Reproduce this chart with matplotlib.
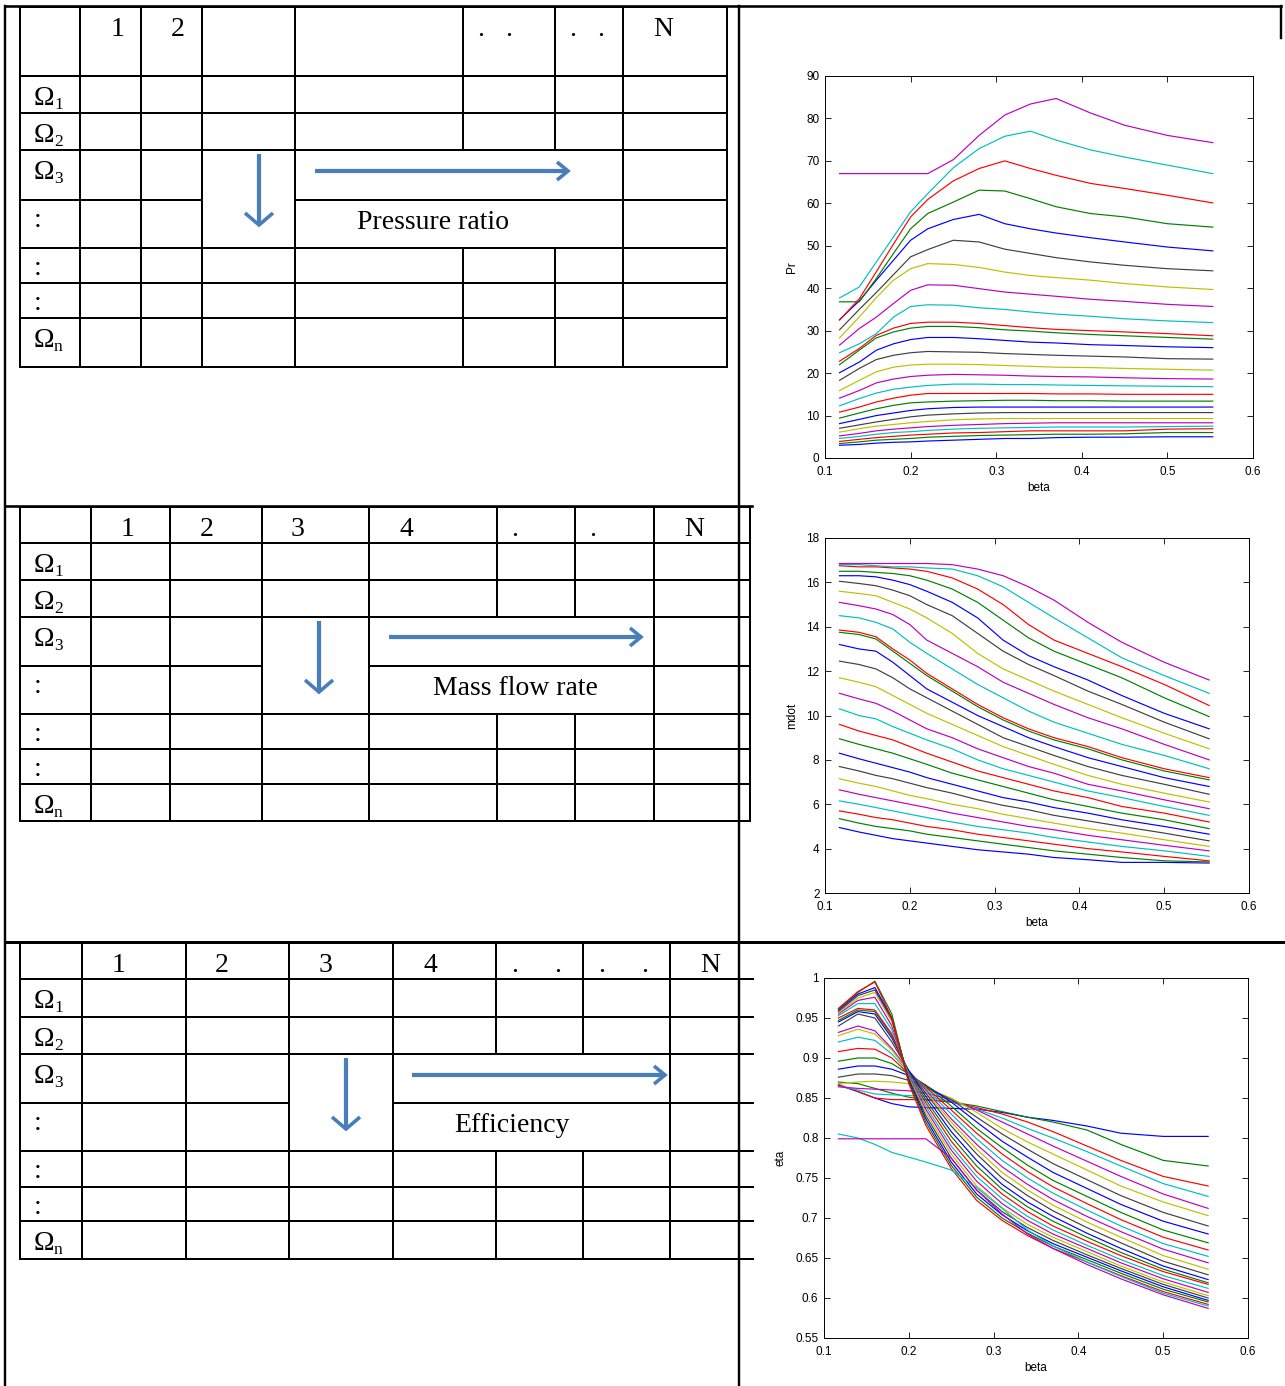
import matplotlib
matplotlib.use("Agg")
import matplotlib.pyplot as plt

W, H = 1285, 1386

# ---------------------------------------------------------------- data
beta = [0.117, 0.14, 0.16, 0.18, 0.20, 0.22, 0.25, 0.28, 0.31, 0.34, 0.37, 0.41, 0.45, 0.50, 0.553]

# pressure ratio, one row per speed line (lowest speed first)
pr_1 = [3.0, 3.2, 3.5, 3.7, 3.8, 4.0, 4.2, 4.4, 4.6, 4.6, 4.8, 4.9, 4.9, 5.0, 5.0]
pr_2 = [3.4, 3.8, 4.2, 4.4, 4.6, 4.9, 5.1, 5.3, 5.4, 5.5, 5.6, 5.6, 5.7, 6.0, 6.0]
pr_3 = [3.9, 4.4, 4.8, 5.1, 5.4, 5.6, 5.9, 6.0, 6.2, 6.4, 6.4, 6.4, 6.4, 6.8, 6.9]
pr_4 = [4.6, 5.1, 5.6, 6.0, 6.2, 6.5, 6.8, 7.0, 7.1, 7.2, 7.3, 7.3, 7.3, 7.4, 7.5]
pr_5 = [5.2, 5.8, 6.4, 6.8, 7.1, 7.4, 7.7, 7.9, 8.1, 8.2, 8.3, 8.3, 8.3, 8.3, 8.3]
pr_6 = [6.1, 6.9, 7.5, 7.9, 8.3, 8.6, 9.0, 9.2, 9.3, 9.3, 9.3, 9.3, 9.3, 9.3, 9.3]
pr_7 = [7.0, 7.8, 8.5, 9.1, 9.7, 10.1, 10.4, 10.6, 10.7, 10.7, 10.7, 10.7, 10.7, 10.7, 10.7]
pr_8 = [8.1, 9.1, 10.0, 10.6, 11.2, 11.6, 11.9, 12.0, 12.0, 12.0, 12.0, 12.0, 12.0, 12.0, 12.0]
pr_9 = [9.4, 10.6, 11.6, 12.4, 13.0, 13.2, 13.4, 13.5, 13.6, 13.6, 13.5, 13.5, 13.4, 13.4, 13.4]
pr_10 = [10.8, 12.0, 13.2, 14.1, 14.8, 15.2, 15.2, 15.2, 15.2, 15.2, 15.1, 15.1, 15.0, 15.0, 15.0]
pr_11 = [12.3, 14.0, 15.3, 16.2, 16.7, 17.1, 17.4, 17.4, 17.3, 17.3, 17.2, 17.1, 17.0, 16.9, 16.8]
pr_12 = [14.1, 15.9, 17.7, 18.6, 19.2, 19.5, 19.7, 19.6, 19.5, 19.3, 19.2, 19.1, 18.9, 18.7, 18.6]
pr_13 = [15.9, 18.3, 20.3, 21.4, 21.9, 22.1, 22.1, 22.0, 21.8, 21.6, 21.4, 21.3, 21.1, 20.9, 20.7]
pr_14 = [18.3, 21.1, 23.2, 24.2, 24.8, 25.1, 25.0, 24.9, 24.6, 24.4, 24.2, 24.0, 23.8, 23.4, 23.3]
pr_15 = [20.1, 22.6, 25.4, 26.9, 27.9, 28.4, 28.4, 28.1, 27.7, 27.3, 27.1, 26.7, 26.5, 26.2, 26.0]
pr_16 = [22.0, 25.4, 28.3, 29.7, 30.6, 31.0, 31.0, 30.7, 30.2, 29.9, 29.5, 29.1, 28.8, 28.4, 28.0]
pr_17 = [22.8, 25.8, 28.9, 30.6, 31.7, 32.0, 32.0, 31.7, 31.2, 30.7, 30.3, 30.0, 29.7, 29.3, 28.8]
pr_18 = [24.8, 26.9, 29.3, 33.2, 35.7, 36.1, 36.0, 35.4, 35.0, 34.4, 33.9, 33.4, 32.8, 32.3, 31.9]
pr_19 = [26.6, 30.5, 33.2, 36.4, 39.5, 40.8, 40.7, 39.9, 39.1, 38.6, 38.1, 37.4, 36.9, 36.2, 35.7]
pr_20 = [28.3, 33.2, 37.8, 41.9, 44.6, 45.8, 45.6, 44.9, 43.8, 43.0, 42.5, 41.9, 41.1, 40.3, 39.7]
pr_21 = [30.2, 35.0, 39.0, 43.2, 47.4, 49.1, 51.3, 50.9, 49.2, 48.2, 47.2, 46.2, 45.4, 44.6, 44.1]
pr_22 = [32.6, 37.0, 41.9, 46.6, 51.3, 54.0, 56.2, 57.4, 55.2, 54.0, 53.0, 51.9, 50.9, 49.7, 48.8]
pr_23 = [36.8, 36.8, 42.3, 48.2, 54.0, 57.6, 60.3, 63.1, 62.9, 61.1, 59.2, 57.6, 56.8, 55.2, 54.4]
pr_24 = [32.5, 37.5, 43.9, 50.4, 56.8, 60.9, 65.3, 68.2, 70.0, 68.2, 66.6, 64.7, 63.5, 61.9, 60.1]
pr_25 = [37.7, 40.3, 46.2, 52.1, 58.0, 62.3, 68.4, 72.9, 75.8, 77.0, 74.9, 72.6, 70.9, 69.0, 67.0]
pr_26 = [67.0, 67.0, 67.0, 67.0, 67.0, 67.0, 70.3, 76.0, 80.8, 83.4, 84.7, 81.3, 78.4, 76.0, 74.3]

# corrected mass flow rate
md_1 = [4.95, 4.75, 4.6, 4.45, 4.35, 4.25, 4.1, 3.95, 3.85, 3.75, 3.6, 3.5, 3.38, 3.38, 3.35]
md_2 = [5.35, 5.15, 5.0, 4.9, 4.8, 4.65, 4.5, 4.35, 4.2, 4.05, 3.9, 3.75, 3.6, 3.45, 3.4]
md_3 = [5.7, 5.55, 5.4, 5.3, 5.15, 5.0, 4.85, 4.65, 4.5, 4.35, 4.2, 4.0, 3.85, 3.65, 3.45]
md_4 = [6.15, 6.0, 5.85, 5.7, 5.55, 5.4, 5.2, 5.0, 4.85, 4.7, 4.5, 4.3, 4.1, 3.9, 3.65]
md_5 = [6.65, 6.45, 6.3, 6.15, 6.0, 5.85, 5.6, 5.4, 5.2, 5.0, 4.85, 4.6, 4.4, 4.15, 3.9]
md_6 = [7.15, 6.95, 6.8, 6.6, 6.4, 6.25, 6.0, 5.8, 5.55, 5.35, 5.15, 4.9, 4.7, 4.4, 4.1]
md_7 = [7.7, 7.5, 7.3, 7.15, 6.95, 6.75, 6.5, 6.2, 5.95, 5.75, 5.5, 5.25, 5.0, 4.7, 4.35]
md_8 = [8.3, 8.05, 7.85, 7.65, 7.45, 7.2, 6.9, 6.6, 6.3, 6.1, 5.85, 5.6, 5.3, 5.0, 4.65]
md_9 = [8.95, 8.7, 8.5, 8.3, 8.05, 7.8, 7.4, 7.1, 6.8, 6.5, 6.2, 5.9, 5.6, 5.3, 4.9]
md_10 = [9.6, 9.3, 9.1, 8.9, 8.6, 8.3, 7.9, 7.5, 7.2, 6.9, 6.6, 6.3, 5.9, 5.6, 5.2]
md_11 = [10.3, 10.0, 9.85, 9.5, 9.2, 8.9, 8.5, 8.0, 7.6, 7.3, 7.0, 6.6, 6.3, 5.9, 5.5]
md_12 = [11.0, 10.75, 10.55, 10.2, 9.8, 9.4, 9.0, 8.5, 8.1, 7.7, 7.4, 6.9, 6.6, 6.2, 5.8]
md_13 = [11.7, 11.5, 11.3, 10.9, 10.5, 10.1, 9.6, 9.1, 8.6, 8.2, 7.8, 7.3, 6.9, 6.5, 6.1]
md_14 = [12.45, 12.3, 12.1, 11.7, 11.2, 10.8, 10.2, 9.6, 9.0, 8.6, 8.2, 7.7, 7.3, 6.9, 6.45]
md_15 = [13.2, 13.0, 12.9, 12.4, 11.8, 11.2, 10.6, 10.0, 9.5, 9.0, 8.6, 8.1, 7.7, 7.2, 6.8]
md_16 = [13.75, 13.65, 13.45, 12.9, 12.35, 11.8, 11.1, 10.4, 9.8, 9.3, 8.9, 8.5, 8.0, 7.5, 7.1]
md_17 = [13.85, 13.75, 13.55, 13.0, 12.5, 11.9, 11.2, 10.5, 9.9, 9.4, 9.0, 8.6, 8.1, 7.6, 7.2]
md_18 = [14.5, 14.4, 14.2, 13.9, 13.3, 12.8, 12.1, 11.4, 10.8, 10.2, 9.7, 9.2, 8.7, 8.2, 7.6]
md_19 = [15.1, 14.95, 14.8, 14.55, 14.1, 13.4, 12.8, 12.2, 11.5, 11.0, 10.5, 9.9, 9.4, 8.7, 8.0]
md_20 = [15.6, 15.5, 15.4, 15.1, 14.8, 14.4, 13.7, 12.8, 12.1, 11.6, 11.1, 10.5, 9.9, 9.2, 8.5]
md_21 = [16.05, 15.95, 15.85, 15.65, 15.4, 15.0, 14.5, 13.7, 12.9, 12.3, 11.8, 11.1, 10.5, 9.7, 8.95]
md_22 = [16.3, 16.3, 16.25, 16.1, 15.9, 15.6, 15.1, 14.4, 13.4, 12.7, 12.2, 11.6, 10.9, 10.1, 9.4]
md_23 = [16.5, 16.5, 16.45, 16.4, 16.3, 16.1, 15.7, 15.1, 14.3, 13.5, 12.9, 12.3, 11.7, 10.8, 9.95]
md_24 = [16.75, 16.7, 16.7, 16.65, 16.6, 16.5, 16.2, 15.7, 15.0, 14.1, 13.4, 12.8, 12.2, 11.4, 10.45]
md_25 = [16.8, 16.8, 16.75, 16.7, 16.7, 16.65, 16.6, 16.3, 15.8, 15.1, 14.4, 13.5, 12.6, 11.8, 11.0]
md_26 = [16.85, 16.85, 16.85, 16.85, 16.85, 16.85, 16.8, 16.6, 16.3, 15.8, 15.2, 14.2, 13.3, 12.4, 11.6]

# isentropic efficiency
eta_1 = [0.866, 0.858, 0.850, 0.843, 0.839, 0.838, 0.837, 0.836, 0.832, 0.826, 0.822, 0.815, 0.806, 0.802, 0.802]
eta_2 = [0.870, 0.868, 0.862, 0.856, 0.851, 0.848, 0.845, 0.840, 0.833, 0.826, 0.820, 0.810, 0.792, 0.772, 0.765]
eta_3 = [0.867, 0.858, 0.850, 0.848, 0.848, 0.848, 0.845, 0.838, 0.830, 0.820, 0.808, 0.790, 0.772, 0.752, 0.740]
eta_4 = [0.865, 0.860, 0.855, 0.854, 0.853, 0.852, 0.846, 0.836, 0.825, 0.812, 0.800, 0.783, 0.765, 0.743, 0.727]
eta_5 = [0.864, 0.862, 0.861, 0.860, 0.859, 0.856, 0.848, 0.835, 0.820, 0.805, 0.790, 0.771, 0.752, 0.730, 0.712]
eta_6 = [0.868, 0.870, 0.871, 0.870, 0.868, 0.862, 0.850, 0.832, 0.812, 0.795, 0.780, 0.760, 0.740, 0.720, 0.703]
eta_7 = [0.876, 0.880, 0.880, 0.878, 0.872, 0.864, 0.848, 0.826, 0.805, 0.786, 0.768, 0.748, 0.728, 0.707, 0.690]
eta_8 = [0.886, 0.890, 0.890, 0.886, 0.878, 0.866, 0.845, 0.820, 0.796, 0.776, 0.757, 0.737, 0.717, 0.696, 0.680]
eta_9 = [0.896, 0.900, 0.900, 0.893, 0.880, 0.866, 0.840, 0.812, 0.788, 0.766, 0.747, 0.727, 0.707, 0.685, 0.669]
eta_10 = [0.908, 0.912, 0.911, 0.900, 0.880, 0.864, 0.835, 0.806, 0.780, 0.758, 0.739, 0.718, 0.698, 0.676, 0.660]
eta_11 = [0.920, 0.926, 0.922, 0.905, 0.882, 0.862, 0.830, 0.799, 0.772, 0.750, 0.731, 0.710, 0.690, 0.668, 0.652]
eta_12 = [0.932, 0.940, 0.934, 0.912, 0.884, 0.860, 0.824, 0.792, 0.764, 0.742, 0.723, 0.702, 0.683, 0.661, 0.644]
eta_13 = [0.928, 0.936, 0.930, 0.910, 0.882, 0.858, 0.820, 0.786, 0.757, 0.735, 0.716, 0.695, 0.676, 0.653, 0.636]
eta_14 = [0.940, 0.955, 0.950, 0.920, 0.884, 0.856, 0.815, 0.780, 0.750, 0.728, 0.709, 0.688, 0.669, 0.646, 0.629]
eta_15 = [0.945, 0.958, 0.955, 0.925, 0.884, 0.852, 0.808, 0.772, 0.742, 0.720, 0.702, 0.681, 0.662, 0.640, 0.623]
eta_16 = [0.947, 0.960, 0.958, 0.928, 0.882, 0.848, 0.802, 0.765, 0.736, 0.714, 0.696, 0.676, 0.657, 0.636, 0.619]
eta_17 = [0.950, 0.962, 0.960, 0.930, 0.880, 0.844, 0.796, 0.758, 0.730, 0.708, 0.690, 0.671, 0.653, 0.633, 0.617]
eta_18 = [0.953, 0.968, 0.968, 0.935, 0.880, 0.840, 0.790, 0.752, 0.724, 0.702, 0.685, 0.666, 0.648, 0.628, 0.612]
eta_19 = [0.955, 0.972, 0.976, 0.940, 0.878, 0.836, 0.785, 0.746, 0.718, 0.697, 0.680, 0.662, 0.644, 0.624, 0.607]
eta_20 = [0.956, 0.975, 0.982, 0.945, 0.876, 0.832, 0.780, 0.740, 0.713, 0.692, 0.676, 0.658, 0.640, 0.620, 0.603]
eta_21 = [0.958, 0.978, 0.985, 0.948, 0.874, 0.828, 0.775, 0.735, 0.708, 0.688, 0.672, 0.654, 0.637, 0.617, 0.600]
eta_22 = [0.960, 0.980, 0.988, 0.950, 0.872, 0.824, 0.770, 0.730, 0.704, 0.684, 0.668, 0.651, 0.634, 0.614, 0.597]
eta_23 = [0.961, 0.982, 0.996, 0.955, 0.870, 0.820, 0.766, 0.726, 0.700, 0.681, 0.665, 0.648, 0.631, 0.611, 0.595]
eta_24 = [0.962, 0.983, 0.995, 0.950, 0.868, 0.816, 0.762, 0.722, 0.697, 0.678, 0.662, 0.645, 0.628, 0.608, 0.592]
eta_25 = [0.805, 0.800, 0.792, 0.782, 0.776, 0.770, 0.760, 0.738, 0.712, 0.685, 0.665, 0.645, 0.627, 0.606, 0.590]
eta_26 = [0.799, 0.799, 0.799, 0.799, 0.799, 0.799, 0.775, 0.735, 0.705, 0.680, 0.662, 0.642, 0.624, 0.604, 0.587]

pr_lines = [pr_1, pr_2, pr_3, pr_4, pr_5, pr_6, pr_7, pr_8, pr_9, pr_10, pr_11, pr_12, pr_13,
            pr_14, pr_15, pr_16, pr_17, pr_18, pr_19, pr_20, pr_21, pr_22, pr_23, pr_24, pr_25, pr_26]
md_lines = [md_1, md_2, md_3, md_4, md_5, md_6, md_7, md_8, md_9, md_10, md_11, md_12, md_13,
            md_14, md_15, md_16, md_17, md_18, md_19, md_20, md_21, md_22, md_23, md_24, md_25, md_26]
eta_lines = [eta_1, eta_2, eta_3, eta_4, eta_5, eta_6, eta_7, eta_8, eta_9, eta_10, eta_11, eta_12, eta_13,
             eta_14, eta_15, eta_16, eta_17, eta_18, eta_19, eta_20, eta_21, eta_22, eta_23, eta_24, eta_25, eta_26]

# table contents
headers_pr = ["1", "2", "", "", ". .", ". .", "N"]
headers_md = ["1", "2", "3", "4", ".", ".", "N"]
headers_eta = ["1", "2", "3", "4", ". .", ". .", "N"]
row_labels = [("Ω", "1"), ("Ω", "2"), ("Ω", "3"), (":", ""), (":", ""), (":", ""), ("Ω", "n")]
quantities = ["Pressure ratio", "Mass flow rate", "Efficiency"]

# classic MATLAB colour order
matlab_colors = [(0, 0, 1), (0, 0.5, 0), (1, 0, 0), (0, 0.75, 0.75),
                 (0.75, 0, 0.75), (0.75, 0.75, 0), (0.25, 0.25, 0.25)]
ARROW = "#4A7EBB"
SERIF = "Liberation Serif"
SANS = "Liberation Sans"

fig = plt.figure(figsize=(W / 100, H / 100), dpi=100)
bg = fig.add_axes([0, 0, 1, 1])
bg.set_xlim(0, W)
bg.set_ylim(H, 0)
bg.axis("off")

PX = 0.72  # points per pixel


def hline(y, x0, x1, lw=2.0):
    bg.plot([x0, x1], [y, y], color="black", lw=lw * PX, solid_capstyle="projecting")


def vline(x, y0, y1, lw=2.0):
    bg.plot([x, x], [y0, y1], color="black", lw=lw * PX, solid_capstyle="projecting")


# outer frame of the layout
hline(6, 5, 1281, lw=2.6)
vline(5, 6, H, lw=2.4)
vline(739, 6, H, lw=2.4)
vline(1281, 6, 38, lw=2.4)
hline(506, 5, 752, lw=2.6)
hline(942, 5, W, lw=3.0)


def draw_table(rows, cols, merge_row, headers, header_x, label, arrow_x, arrow_y, arrow_x0, arrow_x1,
               text_x, right_border=True):
    """Draw one grid with its merged arrow/label block (columns 3-6, rows 4-5)."""
    x_left, x_right = cols[0], cols[-1]
    merge_col = 3
    # horizontal rules
    for i, y in enumerate(rows):
        if i == merge_row + 1:
            hline(y, x_left, cols[merge_col])
            hline(y, cols[merge_col + 1], x_right)
        else:
            hline(y, x_left, x_right)
    # vertical rules
    for j, x in enumerate(cols):
        if j == len(cols) - 1 and not right_border:
            continue
        if merge_col + 1 < j < len(cols) - 2:
            vline(x, rows[0], rows[merge_row])
            vline(x, rows[merge_row + 2], rows[-1])
        else:
            vline(x, rows[0], rows[-1])
    # header row
    for h, xs in zip(headers, header_x):
        if not h:
            continue
        for p, x in zip(h.split(), xs):
            bg.text(x, rows[0] + 29, p, family=SERIF, fontsize=20, ha="center", va="baseline")
    # row labels
    for i, (main, sub) in enumerate(row_labels):
        yb = rows[i + 1] + 29
        if main == "Ω":
            bg.text(34, yb, main, family=SERIF, fontsize=20, ha="left", va="baseline")
            bg.text(54, yb + 4, sub, family=SERIF, fontsize=12.5, ha="left", va="baseline")
        else:
            bg.text(38, yb - 2, main, family=SERIF, fontsize=20, ha="center", va="baseline")
    # arrows
    y0 = rows[merge_row] + 4
    y1 = y0 + 71
    bg.plot([arrow_x, arrow_x], [y0, y1 - 2], color=ARROW, lw=4.2 * PX, solid_capstyle="butt")
    bg.plot([arrow_x - 14, arrow_x, arrow_x + 14], [y1 - 12, y1, y1 - 12], color=ARROW, lw=3.6 * PX,
            solid_joinstyle="miter", solid_capstyle="butt")
    bg.plot([arrow_x0, arrow_x1 - 2], [arrow_y, arrow_y], color=ARROW, lw=4.2 * PX, solid_capstyle="butt")
    bg.plot([arrow_x1 - 11, arrow_x1, arrow_x1 - 11], [arrow_y - 9, arrow_y, arrow_y + 9], color=ARROW,
            lw=3.6 * PX, solid_joinstyle="miter", solid_capstyle="butt")
    bg.text(text_x, rows[merge_row + 1] + 29, label, family=SERIF, fontsize=20, ha="center", va="baseline")


# pressure ratio table
draw_table(rows=[7, 76, 113, 150, 200, 248, 283, 318, 367],
           cols=[20, 80, 141, 202, 295, 463, 555, 623, 727],
           merge_row=3, headers=headers_pr,
           header_x=[[118], [178], [], [], [481, 509], [573, 601], [663]],
           label=quantities[0], arrow_x=259, arrow_y=171, arrow_x0=315, arrow_x1=568, text_x=433)

# mass flow table
draw_table(rows=[507, 543, 580, 617, 666, 714, 749, 784, 821],
           cols=[20, 91, 170, 262, 369, 497, 575, 654, 750],
           merge_row=3, headers=headers_md,
           header_x=[[128], [207], [298], [406], [515], [593], [694]],
           label=quantities[1], arrow_x=319, arrow_y=637, arrow_x0=389, arrow_x1=641, text_x=515)

# efficiency table
draw_table(rows=[943, 979, 1017, 1054, 1103, 1151, 1187, 1221, 1259],
           cols=[20, 82, 186, 289, 393, 496, 583, 670, 753],
           merge_row=3, headers=headers_eta,
           header_x=[[119], [222], [326], [430], [515, 558], [602, 645], [710]],
           label=quantities[2], arrow_x=346, arrow_y=1075, arrow_x0=412, arrow_x1=665, text_x=512,
           right_border=False)


def add_plot(box, lines, ylim, yticks, yticklabels, ylabel):
    left, top, right, bottom = box
    ax = fig.add_axes([left / W, (H - bottom) / H, (right - left) / W, (bottom - top) / H])
    for i, yv in enumerate(lines):
        ax.plot(beta, yv, color=matlab_colors[i % 7], lw=0.85)
    ax.set_xlim(0.1, 0.6)
    ax.set_ylim(*ylim)
    ax.set_xticks([0.1, 0.2, 0.3, 0.4, 0.5, 0.6])
    ax.set_xticklabels(["0.1", "0.2", "0.3", "0.4", "0.5", "0.6"])
    ax.set_yticks(yticks)
    ax.set_yticklabels(yticklabels)
    ax.tick_params(direction="in", length=4, width=0.6, top=True, right=True, labelsize=8.5)
    ax.tick_params(axis="x", pad=5.5)
    ax.tick_params(axis="y", pad=4)
    for lab in ax.get_xticklabels() + ax.get_yticklabels():
        lab.set_family(SANS)
    for s in ax.spines.values():
        s.set_linewidth(0.7)
    ax.set_xlabel("beta", family=SANS, fontsize=8.5, labelpad=3)
    ax.set_ylabel(ylabel, family=SANS, fontsize=8.5, labelpad=6)
    return ax


add_plot((825, 76, 1253, 458), pr_lines, (0, 90), list(range(0, 91, 10)),
         [str(v) for v in range(0, 91, 10)], "Pr")
add_plot((825, 538, 1249, 893), md_lines, (2, 18), list(range(2, 19, 2)),
         [str(v) for v in range(2, 19, 2)], "mdot")
eta_ticks = [0.55, 0.6, 0.65, 0.7, 0.75, 0.8, 0.85, 0.9, 0.95, 1.0]
add_plot((824, 978, 1248, 1338), eta_lines, (0.55, 1.0), eta_ticks,
         ["0.55", "0.6", "0.65", "0.7", "0.75", "0.8", "0.85", "0.9", "0.95", "1"], "eta")

fig.savefig("out.png", dpi=100)
